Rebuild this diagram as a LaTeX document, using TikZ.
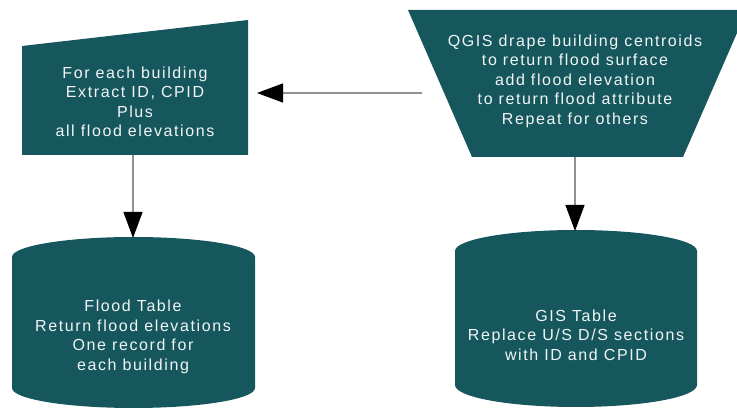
\documentclass[tikz,border=0pt]{standalone}
\usepackage{fontspec}
\setmainfont{Liberation Sans}[LetterSpace=10]
\usetikzlibrary{arrows.meta}
\definecolor{tealfill}{RGB}{22,87,94}
\definecolor{linegray}{RGB}{145,145,145}
\begin{document}
\begin{tikzpicture}[x=1pt,y=-1pt,
  label/.style={text=white!94!tealfill, align=center, inner sep=0pt,
    font=\fontsize{16}{19.5}\selectfont},
  flow/.style={draw=linegray, line width=1.1pt,
    -{Triangle[length=26pt,width=19pt,color=black]}}]
\useasboundingbox (0,0) rectangle (737,411);

% process boxes
\fill[tealfill] (22,46) -- (248,20) -- (248,155) -- (22,155) -- cycle;
\fill[tealfill] (408,10) -- (747,10) -- (683,157) -- (472,157) -- cycle;

% data stores
\fill[tealfill] (12,257) arc[start angle=180, end angle=0, x radius=121.5pt, y radius=20pt]
  -- (255,388) arc[start angle=0, end angle=-180, x radius=121.5pt, y radius=20pt] -- cycle;
\fill[tealfill] (455,251) arc[start angle=180, end angle=0, x radius=121pt, y radius=21pt]
  -- (697,385) arc[start angle=0, end angle=-180, x radius=121pt, y radius=22pt] -- cycle;

% labels
\node[label] (extract) at (135,102) {For each building\\Extract ID, CPID\\Plus\\all flood elevations};
\node[label] (qgis) at (575,81) {QGIS drape building centroids\\to return flood surface\\add flood elevation\\to return flood attribute\\Repeat for others};
\node[label] (flood) at (133,337) {Flood Table\\Return flood elevations\\One record for\\each building};
\node[label] (gis) at (576,335) {GIS Table\\Replace U/S D/S sections\\with ID and CPID};

% connector ends
\coordinate (qgisout) at (422,93);
\coordinate (extractin) at (257,93);
\coordinate (extractout) at (133,155);
\coordinate (floodin) at (133,238);
\coordinate (qgisdown) at (575,157);
\coordinate (gisin) at (575,231);

\draw[flow] (qgisout) -- (extractin);
\draw[flow] (extractout) -- (floodin);
\draw[flow] (qgisdown) -- (gisin);
\end{tikzpicture}
\end{document}
